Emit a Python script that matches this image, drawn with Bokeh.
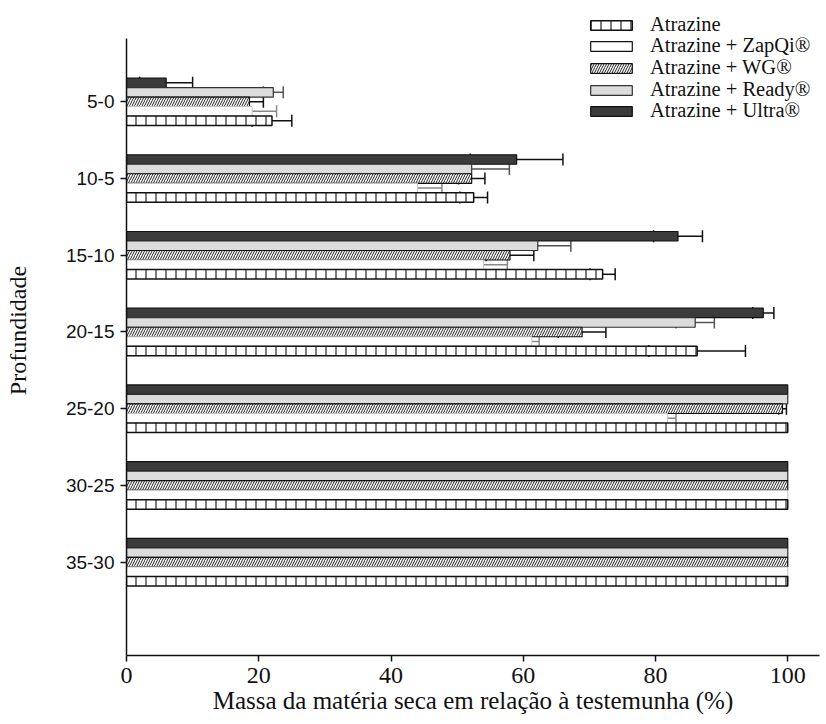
from bokeh.plotting import figure
from bokeh.models import ColumnDataSource, Range1d, FixedTicker, Whisker, TeeHead, Legend, LegendItem
from bokeh.embed import file_html
from bokeh.resources import INLINE

categories = ["5-0", "10-5", "15-10", "20-15", "25-20", "30-25", "35-30"]
x_ticks = [0, 20, 40, 60, 80, 100]

ultra = [6.0, 59.0, 83.4, 96.3, 100, 100, 100]
ultra_err = [4.0, 7.0, 3.7, 1.6, 0, 0, 0]
ready = [22.2, 52.2, 62.2, 86.0, 100, 100, 100]
ready_err = [1.5, 5.7, 5.0, 2.9, 0, 0, 0]
wg = [18.6, 52.2, 58.0, 68.9, 99.2, 100, 100]
wg_err = [2.1, 2.0, 3.6, 3.6, 0.6, 0, 0]
zapqi = [19.0, 44.0, 54.0, 61.3, 81.8, 100, 100]
zapqi_err = [3.7, 3.7, 3.6, 1.1, 1.3, 0, 0]
atrazine = [22.0, 52.5, 72.0, 86.3, 100, 100, 100]
atrazine_err = [3.0, 2.1, 1.9, 7.3, 0, 0, 0]

labels = {
    "atrazine": "Atrazine",
    "zapqi": "Atrazine + ZapQi®",
    "wg": "Atrazine + WG®",
    "ready": "Atrazine + Ready®",
    "ultra": "Atrazine + Ultra®",
}

BAR_H = 0.124
W, H = 824, 722
FRAME_L, FRAME_T, FRAME_B, FRAME_R = 126, 5, 655, 819
Y_AXIS_TOP = -0.82
Y_BOTTOM = 7.216
Y_TOP = -1.255

p = figure(width=W, height=H, output_backend="svg", toolbar_location=None,
           x_range=Range1d(0, 104.8), y_range=Range1d(Y_BOTTOM, Y_TOP),
           min_border_left=FRAME_L, min_border_right=W - FRAME_R,
           min_border_top=FRAME_T, min_border_bottom=H - FRAME_B)
p.outline_line_color = None
p.grid.visible = False
p.background_fill_color = "white"

styles = {
    "ultra": dict(fill_color="#3b3b3b", line_color="#111111", line_width=1.2),
    "ready": dict(fill_color="#dcdcdc", line_color="#333333", line_width=1.2),
    "wg": dict(fill_color="white", line_color="#111111", line_width=1.2,
               hatch_pattern="right_diagonal_line", hatch_scale=5, hatch_weight=1.0, hatch_color="#222222"),
    "zapqi": dict(fill_color="white", line_color="#c4c4c4", line_width=1.0),
    "atrazine": dict(fill_color="white", line_color="#111111", line_width=1.5,
                     hatch_pattern="vertical_line", hatch_scale=10, hatch_weight=1.2, hatch_color="#222222"),
}
err_colors = {"ultra": "#111111", "ready": "#555555", "wg": "#111111", "zapqi": "#888888", "atrazine": "#111111"}

data = {
    "ultra": (ultra, ultra_err, -2),
    "ready": (ready, ready_err, -1),
    "wg": (wg, wg_err, 0),
    "zapqi": (zapqi, zapqi_err, 1),
    "atrazine": (atrazine, atrazine_err, 2),
}

renderers = {}
sources = {}
whisker_sources = []
for key, (vals, errs, k) in data.items():
    ys = [i + k * BAR_H for i in range(len(categories))]
    src = ColumnDataSource(dict(y=ys, v=vals))
    sources[key] = src
    r = p.hbar(y="y", right="v", left=0, height=BAR_H, source=src, **styles[key])
    renderers[key] = r
    wy = [y for y, e in zip(ys, errs) if e > 0]
    wlo = [v - e for v, e in zip(vals, errs) if e > 0]
    whi = [v + e for v, e in zip(vals, errs) if e > 0]
    whisker_sources.append((key, ColumnDataSource(dict(y=wy, lo=wlo, hi=whi))))

for key, wsrc in whisker_sources:
    c = err_colors[key]
    w = Whisker(source=wsrc, base="y", lower="lo", upper="hi", dimension="width",
                line_color=c, line_width=1.5,
                upper_head=TeeHead(size=12, line_color=c, line_width=1.5),
                lower_head=TeeHead(size=12, line_color=c, line_width=1.5))
    p.add_layout(w)

# hidden proxy for the ZapQi legend swatch (dark outline as in the legend box)
zap_proxy = p.hbar(y="y", right="v", left=0, height=BAR_H, source=sources["zapqi"],
                   fill_color="white", line_color="#111111", line_width=1.2, visible=False)

legend_entries = [
    (labels["atrazine"], renderers["atrazine"]),
    (labels["zapqi"], zap_proxy),
    (labels["wg"], renderers["wg"]),
    (labels["ready"], renderers["ready"]),
    (labels["ultra"], renderers["ultra"]),
]
ITEM_H = 22
for j, (lab, rend) in enumerate(legend_entries):
    yc = 25 + 21.5 * j
    lg = Legend(items=[LegendItem(label=lab, renderers=[rend])],
                location=(585 - FRAME_L, int(round(FRAME_B - (yc + ITEM_H / 2)))))
    lg.background_fill_alpha = 0
    lg.border_line_alpha = 0
    lg.inactive_fill_alpha = 0
    lg.padding = 0
    lg.margin = 0
    lg.spacing = 0
    lg.label_height = ITEM_H
    lg.glyph_height = 12
    lg.glyph_width = 52
    lg.label_standoff = 13
    lg.label_text_font = "Liberation Serif"
    lg.label_text_font_size = "20.5px"
    lg.label_text_color = "#111111"
    lg.label_text_baseline = "middle"
    p.add_layout(lg, "center")

# axes
p.xaxis.ticker = FixedTicker(ticks=x_ticks)
p.xaxis.axis_label = "Massa da matéria seca em relação à testemunha (%)"
p.xaxis.axis_label_text_font = "Liberation Serif"
p.xaxis.axis_label_text_font_style = "normal"
p.xaxis.axis_label_text_font_size = "25px"
p.xaxis.axis_label_standoff = 1
p.xaxis.major_label_text_font = "Liberation Serif"
p.xaxis.major_label_text_font_size = "24px"
p.xaxis.major_label_standoff = 6

p.yaxis.ticker = FixedTicker(ticks=list(range(len(categories))))
p.yaxis.major_label_overrides = {i: c for i, c in enumerate(categories)}
p.yaxis.bounds = (Y_AXIS_TOP, Y_BOTTOM)
p.yaxis.axis_label = "Profundidade"
p.yaxis.axis_label_text_font = "Liberation Serif"
p.yaxis.axis_label_text_font_style = "normal"
p.yaxis.axis_label_text_font_size = "24px"
p.yaxis.axis_label_standoff = 32
p.yaxis.major_label_text_font = "Liberation Sans"
p.yaxis.major_label_text_font_size = "19px"
p.yaxis.major_label_standoff = 6

for ax in (p.xaxis, p.yaxis):
    ax.axis_line_color = "#111111"
    ax.axis_line_width = 1.5
    ax.major_tick_line_color = "#111111"
    ax.major_tick_line_width = 1.5
    ax.major_tick_out = 6
    ax.major_tick_in = 0
    ax.minor_tick_line_color = None
    ax.major_label_text_color = "#111111"
    ax.axis_label_text_color = "#111111"

open("out.html", "w").write(file_html(p, INLINE))
